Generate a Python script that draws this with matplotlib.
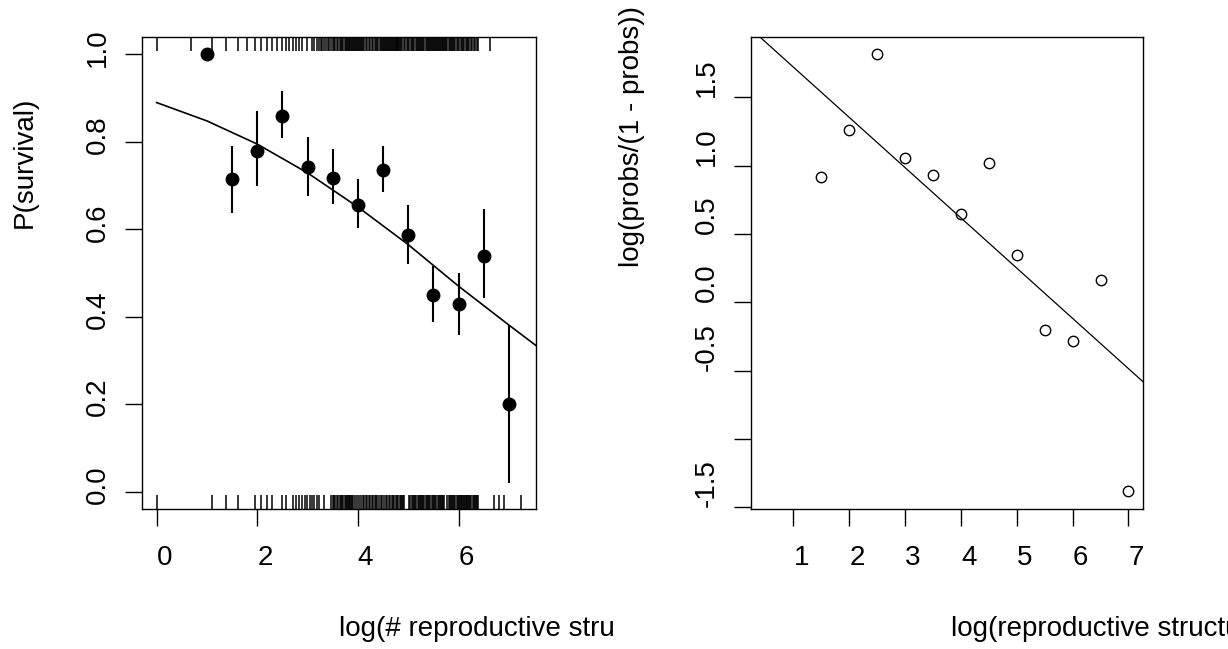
import numpy as np
import matplotlib
matplotlib.use("Agg")
import matplotlib.pyplot as plt
from matplotlib.transforms import Bbox, blended_transform_factory, ScaledTranslation

plt.rcParams['font.family'] = ['Liberation Sans', 'DejaVu Sans']

# ---- data ----
bin_x = [1.0, 1.5, 2.0, 2.5, 3.0, 3.5, 4.0, 4.5, 5.0, 5.5, 6.0, 6.5, 7.0]
p_surv = [1.0, 0.714, 0.779, 0.860, 0.742, 0.718, 0.656, 0.735, 0.586, 0.449, 0.429, 0.540, 0.201]
ci_lo = [np.nan, 0.637, 0.699, 0.810, 0.677, 0.657, 0.603, 0.685, 0.520, 0.388, 0.359, 0.442, 0.019]
ci_hi = [np.nan, 0.791, 0.870, 0.916, 0.812, 0.783, 0.716, 0.791, 0.655, 0.517, 0.501, 0.647, 0.380]

curve_x = [0.0, 1.0, 2.0, 3.0, 4.0, 5.0, 6.0, 7.0, 7.54]
curve_p = [0.890, 0.848, 0.795, 0.729, 0.651, 0.565, 0.470, 0.381, 0.334]

survived_counts = [1, 2, 3, 4, 5, 6, 7, 8, 9, 10, 11, 12, 13, 14, 15, 16, 17, 18, 20,
                   22, 23, 24, 25, 26, 27, 28, 29, 30, 31, 32, 33, 34, 35, 36, 37, 38, 39,
                   40, 41, 42, 43, 44, 45, 46, 47, 48, 49, 50, 51, 52, 53, 54, 55, 56, 57,
                   58, 59, 60, 62, 64, 66, 68, 70, 72, 74, 76, 78, 80, 82, 84, 86, 88, 90,
                   92, 94, 96, 98, 100, 102, 104, 106, 108, 110, 112, 114, 116, 118, 120,
                   122, 124, 126, 128, 132, 136, 140, 144, 148, 152, 156, 160, 164, 168,
                   172, 176, 180, 184, 188, 192, 196, 200, 205, 210, 215, 220, 225, 230,
                   235, 240, 245, 250, 255, 260, 265, 270, 275, 280, 285, 290, 295, 300,
                   308, 316, 324, 332, 340, 348, 356, 364, 372, 380, 390, 400, 410, 420,
                   430, 440, 452, 464, 476, 488, 500, 515, 530, 545, 560, 578, 595, 760]
died_counts = [1, 3, 4, 5, 7, 8, 9, 10, 12, 13, 15, 16, 17, 18, 19, 20, 21, 22, 23, 24, 25,
               28, 32, 33, 34, 35, 36, 37, 38, 39, 40, 41, 42, 43, 44, 45, 46, 47, 48, 49,
               50, 52, 54, 56, 58, 60, 62, 64, 66, 68, 70, 72, 74, 76, 78, 80, 83, 86, 89,
               92, 95, 98, 101, 104, 107, 110, 113, 116, 119, 122, 125, 128, 131, 134, 137,
               151, 155, 159, 163, 167, 171, 175, 179, 183, 187, 191, 195, 200, 205, 210,
               215, 220, 225, 230, 236, 242, 248, 254, 260, 266, 272, 278, 285, 292, 299,
               305, 324, 332, 340, 348, 356, 364, 372, 380, 388, 396, 404, 413, 422, 431,
               440, 450, 460, 470, 480, 490, 500, 511, 522, 533, 544, 556, 568, 580, 596,
               812, 898, 992, 1408]

fit_intercept = 2.09
fit_slope = -0.368

left_xticks = [0, 2, 4, 6]
left_yticks = [0.0, 0.2, 0.4, 0.6, 0.8, 1.0]
left_yticklabels = ["0.0", "0.2", "0.4", "0.6", "0.8", "1.0"]
right_xticks = [1, 2, 3, 4, 5, 6, 7]
right_yticks = [-1.5, -1.0, -0.5, 0.0, 0.5, 1.0, 1.5]
right_yticklabels = ["-1.5", "", "-0.5", "0.0", "0.5", "1.0", "1.5"]

# ---- figure ----
W, H = 1228, 649
fig = plt.figure(figsize=(W / 100, H / 100), dpi=100)
ax1 = fig.add_axes([142 / W, 1 - 509 / H, 394 / W, 472 / H])
ax2 = fig.add_axes([751 / W, 1 - 509 / H, 392 / W, 472 / H])

FS = 20

for ax in (ax1, ax2):
    for s in ax.spines.values():
        s.set_linewidth(1.0)
    ax.tick_params(direction='out', length=12.2, width=1.0, labelsize=FS, color='k')
    ax.tick_params(axis='x', pad=13.5)
    ax.tick_params(axis='y', pad=10)

# left panel
bx = np.array(bin_x)
lo = np.array(ci_lo)
hi = np.array(ci_hi)
ok = ~np.isnan(lo)
ax1.vlines(bx[ok], lo[ok], hi[ok], color='k', lw=1.5)
ax1.plot(bin_x, p_surv, 'o', color='k', ms=9)
ax1.plot(curve_x, curve_p, '-', color='k', lw=1.2)
tr = blended_transform_factory(ax1.transData, ax1.transAxes)
ax1.vlines(np.log(survived_counts), 0.97, 1.0, transform=tr, color='k', lw=1.1)
ax1.vlines(np.log(died_counts), 0.0, 0.03, transform=tr, color='k', lw=1.1)
ax1.set_xlim(-0.29, 7.54)
ax1.set_ylim(-0.04, 1.04)
ax1.set_xticks(left_xticks, labels=[str(v) for v in left_xticks], ha='left')
ax1.set_yticks(left_yticks, labels=left_yticklabels, rotation=90, va='center')

# right panel
p = np.array(p_surv)
fin = p < 1
logit = np.log(p[fin] / (1 - p[fin]))
ax2.plot(bx[fin], logit, 'o', mfc='none', mec='k', ms=7.5, mew=1.0)
ax2.axline((0, fit_intercept), slope=fit_slope, color='k', lw=0.9)
ax2.set_xlim(0.24, 7.26)
ax2.set_ylim(-1.514, 1.943)
ax2.set_xticks(right_xticks, labels=[str(v) for v in right_xticks], ha='left')
ax2.set_yticks(right_yticks, labels=right_yticklabels, rotation=90, va='bottom')

# shift left-panel y tick labels slightly upward, as in the reference
up = ScaledTranslation(0, 7 / 100, fig.dpi_scale_trans)
for t in ax1.yaxis.get_major_ticks():
    t.label1.set_transform(t.label1.get_transform() + up)

# axis labels (positioned as in the reference)
fig.text(25 / W, 1 - 162 / H, "P(survival)", rotation=90, ha='center', va='center', fontsize=FS)
fig.text(632 / W, 1 - 267 / H, "log(probs/(1 - probs))", rotation=90, ha='center', va='bottom', fontsize=FS)
t1 = fig.text(339 / W, 1 - 636 / H, "log(# reproductive structures)", ha='left', va='baseline', fontsize=FS)
t1.set_clip_box(Bbox.from_extents(0, 0, 614, H))
t1.set_clip_on(True)
t2 = fig.text(951 / W, 1 - 636 / H, "log(reproductive structures)", ha='left', va='baseline', fontsize=FS)
t2.set_clip_box(Bbox.from_extents(614, 0, W, H))
t2.set_clip_on(True)

fig.savefig("out.png", dpi=100)
